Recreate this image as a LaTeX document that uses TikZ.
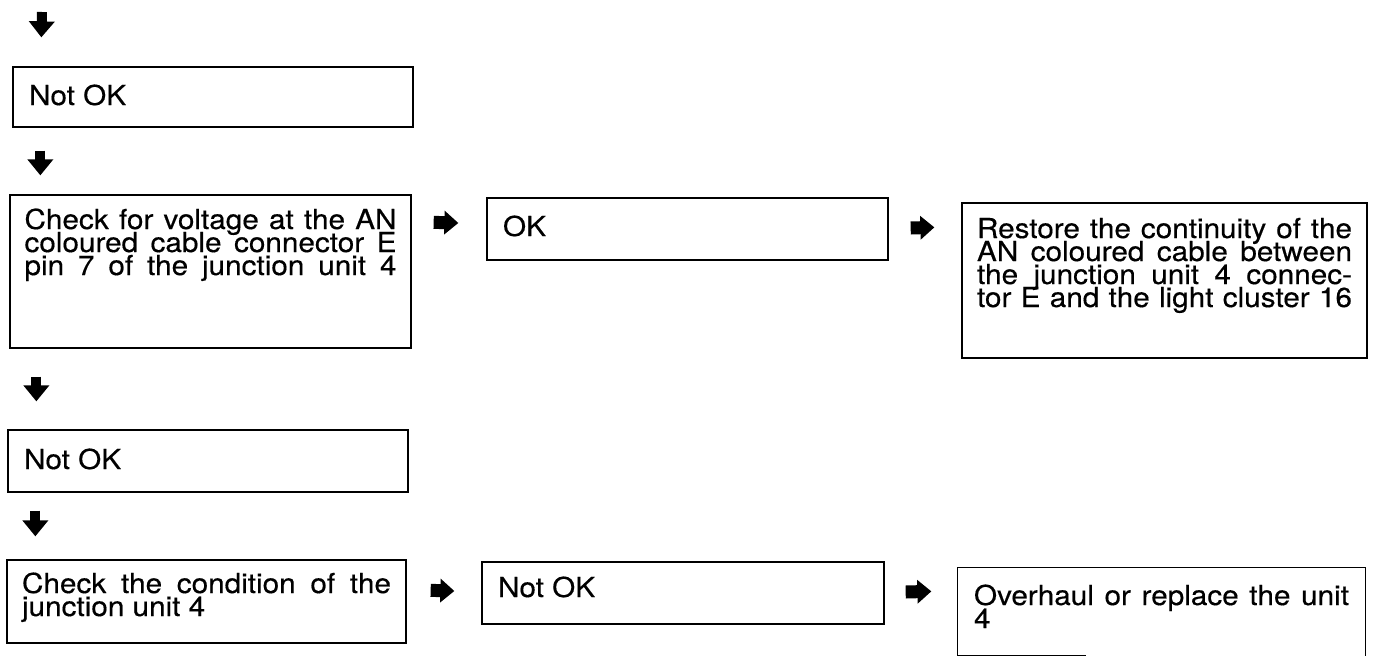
\documentclass[tikz,border=0pt]{standalone}
\usepackage{fontspec}
\setmainfont{TeX Gyre Heros}[FakeStretch=1.08,FakeBold=0.4]
\usetikzlibrary{arrows.meta,calc}
\newcommand{\bt}[4]{\parbox[t][#2pt][t]{#1pt}{\fontsize{27.5pt}{23pt}\selectfont\baselineskip=23pt\lineskiplimit=-50pt\rule{0pt}{#3pt}#4}}
\tikzset{
  box/.style={draw, line width=1.3pt, inner sep=0pt},
  downarr/.style={line width=10pt, -{Triangle[length=16pt,width=25pt]}},
  rightarr/.style={line width=13pt, -{Triangle[length=14pt,width=23pt]}}
}
\begin{document}
\begin{tikzpicture}[x=1pt,y=-1pt]
\useasboundingbox (0,0) rectangle (1376,657);
\node[box, minimum width=400pt, minimum height=60pt] (nok1) at (213,97)
  {\bt{368}{60}{38}{Not OK}};
\node[box, minimum width=401pt, minimum height=153pt] (chk1) at (210.5,271.5)
  {\bt{372}{153}{34}{\parfillskip=0pt Check for voltage at the AN\linebreak coloured cable connector E\linebreak pin 7 of the junction unit 4}};
\node[box, minimum width=401pt, minimum height=62pt] (ok1) at (687.5,229)
  {\bt{369}{62}{38}{OK}};
\node[box, minimum width=405pt, minimum height=155pt] (rst) at (1164.5,280.5)
  {\bt{375}{155}{35}{\parfillskip=0pt Restore the continuity of the\linebreak AN coloured cable between\linebreak the junction unit 4 connec-\linebreak tor E and the light cluster 16}};
\node[box, minimum width=400pt, minimum height=62pt] (nok2) at (208,461)
  {\bt{368}{62}{39}{Not OK}};
\node[box, minimum width=399pt, minimum height=83pt] (chk2) at (206.5,601.5)
  {\bt{369}{83}{33}{Check the condition of the\linebreak junction unit 4}};
\node[box, minimum width=402pt, minimum height=62pt] (nok3) at (683,593)
  {\bt{370}{62}{35}{Not OK}};
\node[box, draw=none, minimum width=407pt, minimum height=87pt] (ovh) at (1161.5,611.5)
  {\bt{375}{87}{37}{Overhaul or replace the unit\linebreak 4}};
\draw[line width=1.3pt] (ovh.south west) -- (ovh.north west) -- (ovh.north east) -- (ovh.south east);
\draw[line width=1.3pt] (ovh.south west) -- ($(ovh.south west)+(129,0)$);
\coordinate (start) at (42,12);
\draw[downarr] (start) -- ($(nok1.north west)+(29,-29)$);
\draw[downarr] ($(nok1.south west)+(28,23)$) -- ($(chk1.north west)+(31,-19)$);
\draw[downarr] ($(chk1.south west)+(27,28)$) -- ($(nok2.north west)+(29,-28)$);
\draw[downarr] ($(nok2.south west)+(28,18)$) -- ($(chk2.north west)+(29,-23)$);
\draw[rightarr] ($(chk1.north east)+(22,28)$) -- ($(ok1.west)+(-28,-6)$);
\draw[rightarr] ($(ok1.east)+(22,-1)$) -- ($(rst.north west)+(-27,25)$);
\draw[rightarr] ($(chk2.north east)+(24,31)$) -- ($(nok3.west)+(-27,-2)$);
\draw[rightarr] ($(nok3.east)+(21,-1)$) -- ($(ovh.north west)+(-26,24)$);
\end{tikzpicture}
\end{document}
